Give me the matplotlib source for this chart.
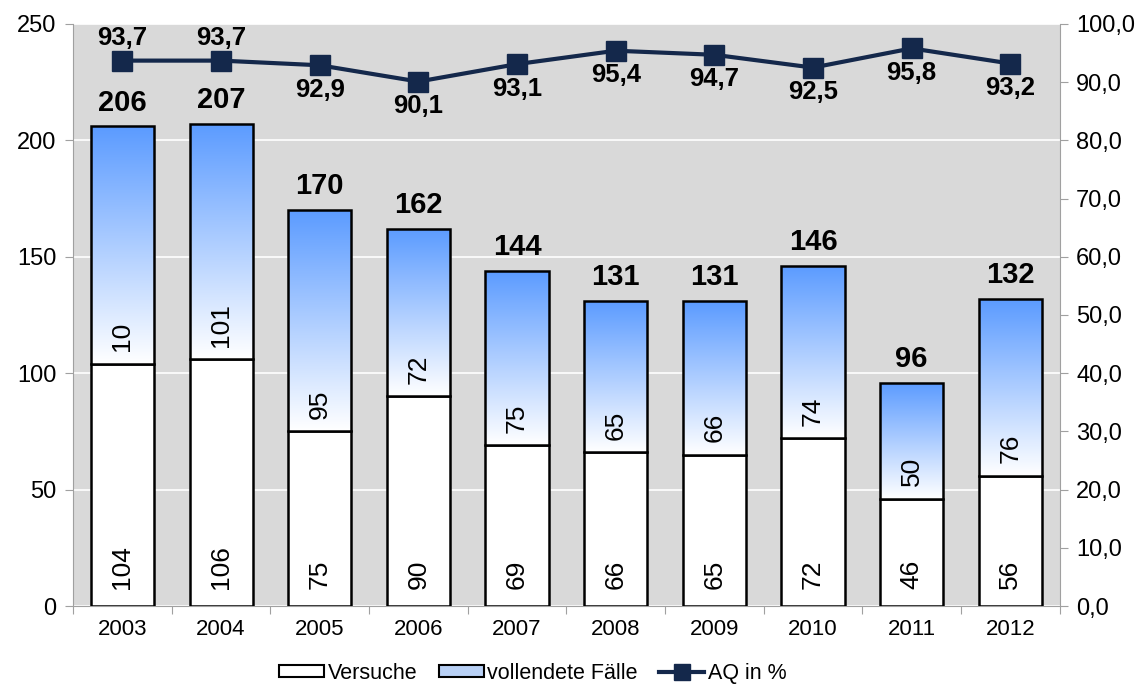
#!/usr/bin/env python3
# Versuche / vollendete Faelle with AQ in % on the secondary axis

import numpy as np
import matplotlib
matplotlib.use('Agg')
import matplotlib.pyplot as plt
from matplotlib.colors import LinearSegmentedColormap
from matplotlib.patches import Patch
from matplotlib.lines import Line2D

plt.rcParams['font.family'] = ['Liberation Sans', 'DejaVu Sans']

years = ['2003', '2004', '2005', '2006', '2007', '2008', '2009', '2010', '2011', '2012']
versuche = [104, 106, 75, 90, 69, 66, 65, 72, 46, 56]
vollendet = [102, 101, 95, 72, 75, 65, 66, 74, 50, 76]
vollendet_labels = ['10', '101', '95', '72', '75', '65', '66', '74', '50', '76']
totals = [206, 207, 170, 162, 144, 131, 131, 146, 96, 132]
aq = [93.7, 93.7, 92.9, 90.1, 93.1, 95.4, 94.7, 92.5, 95.8, 93.2]
aq_above = [True, True, False, False, False, False, False, False, False, False]

navy = '#14284b'
blue = '#5b9bff'
grad_cmap = LinearSegmentedColormap.from_list('grad', ['white', blue])

fig = plt.figure(figsize=(11.43, 6.84), dpi=100)
ax = fig.add_axes([0.064, 0.114, 0.863, 0.851])
ax.set_facecolor('#d9d9d9')
x = np.arange(len(years))
w = 0.64

ax.yaxis.grid(True, color='white', linewidth=1.2)
ax.set_axisbelow(True)

bars_low = ax.bar(x, versuche, w, color='white', edgecolor='black', linewidth=1.8, zorder=3)
bars_up = ax.bar(x, vollendet, w, bottom=versuche, color='none', edgecolor='black',
                 linewidth=1.8, zorder=4)

# blue-to-white gradient inside the upper segments
grad = np.linspace(0, 1, 256).reshape(-1, 1)
for b in bars_up:
    x0, y0 = b.get_x(), b.get_y()
    im = ax.imshow(grad, extent=[x0, x0 + b.get_width(), y0, y0 + b.get_height()],
                   origin='lower', aspect='auto', cmap=grad_cmap, zorder=3.5)
    im.set_clip_path(b)
ax.set_aspect('auto')
ax.set_xlim(-0.5, len(years) - 0.5)
ax.set_ylim(0, 250)
ax.set_yticks(range(0, 251, 50))

for i in range(len(years)):
    ax.annotate(str(versuche[i]), (x[i], 0), xytext=(0, 12), textcoords='offset points',
                rotation=90, ha='center', va='bottom', fontsize=19, zorder=6)
    ax.annotate(vollendet_labels[i], (x[i], versuche[i]), xytext=(0, 9),
                textcoords='offset points', rotation=90, ha='center', va='bottom',
                fontsize=19, zorder=6)
    ax.annotate(str(totals[i]), (x[i], totals[i]), xytext=(0, 7), textcoords='offset points',
                ha='center', va='bottom', fontsize=21, fontweight='bold', zorder=6)

ax.set_xticks(np.arange(-0.5, len(years), 1))
ax.set_xticklabels([])
ax.set_xticks(x, minor=True)
ax.set_xticklabels(years, minor=True, fontsize=16)
ax.tick_params(axis='x', which='major', length=6, color='#a0a0a0', direction='out')
ax.tick_params(axis='x', which='minor', length=0, pad=9)
ax.tick_params(axis='y', length=6, color='#a0a0a0', labelsize=17, pad=6)
for s in ['top', 'right']:
    ax.spines[s].set_visible(False)
for s in ['left', 'bottom']:
    ax.spines[s].set_color('#a0a0a0')

ax2 = ax.twinx()
ax2.set_ylim(0, 100)
ax2.set_yticks(range(0, 101, 10))
ax2.set_yticklabels([f'{v},0' for v in range(0, 101, 10)])
ax2.tick_params(axis='y', length=6, color='#a0a0a0', labelsize=17, pad=6)
for s in ['top', 'left', 'bottom']:
    ax2.spines[s].set_visible(False)
ax2.spines['right'].set_color('#a0a0a0')
ax2.plot(x, aq, color=navy, linewidth=3, marker='s', markersize=15, zorder=5)
for i, v in enumerate(aq):
    lab = f'{v:.1f}'.replace('.', ',')
    if aq_above[i]:
        ax2.annotate(lab, (x[i], v), xytext=(0, 8), textcoords='offset points',
                     ha='center', va='bottom', fontsize=18.5, fontweight='bold')
    else:
        ax2.annotate(lab, (x[i], v), xytext=(0, -9), textcoords='offset points',
                     ha='center', va='top', fontsize=18.5, fontweight='bold')

handles = [Patch(facecolor='white', edgecolor='black', linewidth=1.5, label='Versuche'),
           Patch(facecolor='#b8d0f5', edgecolor='black', linewidth=1.5,
                 label='vollendete Fälle'),
           Line2D([0], [0], color=navy, linewidth=3, marker='s', markersize=12,
                  label='AQ in %')]
fig.legend(handles=handles, loc='center', bbox_to_anchor=(0.466, 0.016), ncol=3,
           frameon=False, fontsize=15.5, handlelength=2.1, handleheight=0.5,
           handletextpad=0.15, columnspacing=1.0)

fig.savefig('out.png', dpi=100)
